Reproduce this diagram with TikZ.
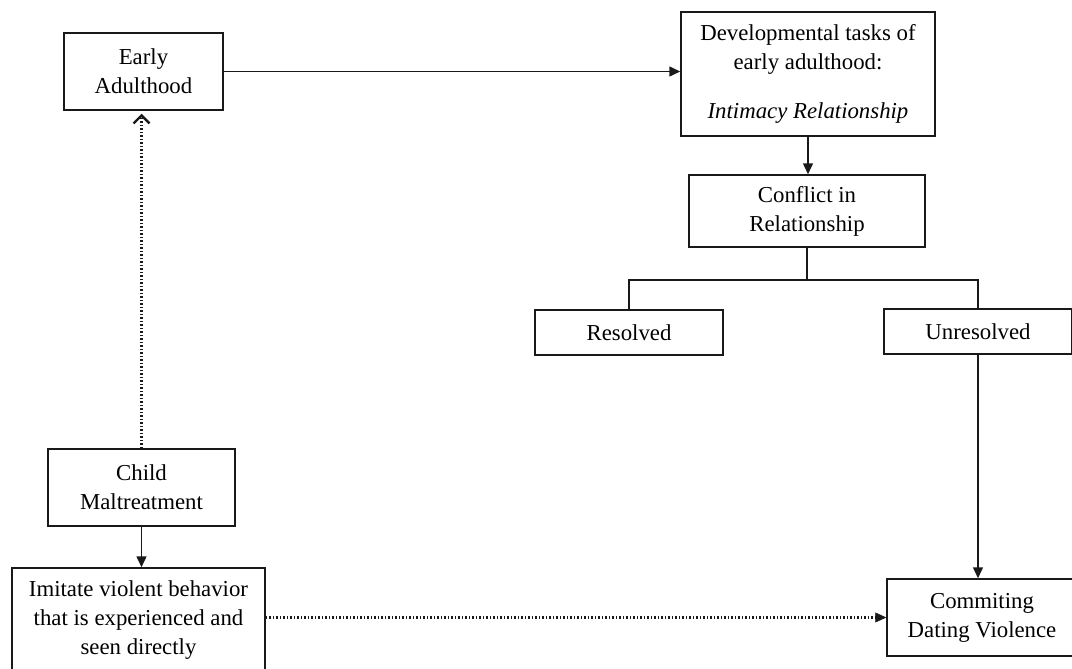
\documentclass[tikz,border=0pt]{standalone}
\usepackage{fontspec}
\setmainfont{Liberation Serif}
\usetikzlibrary{arrows.meta}
\begin{document}
\begin{tikzpicture}[x=1pt,y=-1pt,
  box/.style={draw=black!90,line width=1.5pt,align=center,inner sep=0pt,
    font=\fontsize{22.8}{29}\selectfont},
  conn/.style={line width=1.5pt,black!90},
  tip/.style={-{Triangle[length=11pt,width=10pt]}},
  dotline/.style={line width=2.2pt,dash pattern=on 1.5pt off 2pt}]
\useasboundingbox (0,0) rectangle (1072,669);
\node[box,minimum width=159pt,minimum height=77pt] (ea) at (143.5,71.5) {Early\\Adulthood};
\node[box,minimum width=254pt,minimum height=124pt] (dt) at (808,74) {Developmental tasks of\\early adulthood:\\[20pt]\textit{Intimacy Relationship}};
\node[box,minimum width=236pt,minimum height=72pt] (cr) at (807,211) {Conflict in\\Relationship};
\node[box,minimum width=188pt,minimum height=45pt] (res) at (629,332.5) {Resolved};
\node[box,minimum width=188pt,minimum height=45pt] (unr) at (978,331.5) {Unresolved};
\node[box,minimum width=187pt,minimum height=77pt] (cm) at (141.5,487.5) {Child\\Maltreatment};
\node[box,minimum width=253pt,minimum height=104pt] (im) at (138.5,620) {Imitate violent behavior\\that is experienced and\\seen directly};
\node[box,minimum width=190pt,minimum height=77pt] (cdv) at (982,617.5) {Commiting\\Dating Violence};
\draw[conn,tip] (ea.east) -- (ea.east -| dt.west);
\draw[conn,tip] (dt.south) -- (dt.south |- cr.north);
\draw[conn] (cr.south) -- ++(0,32) coordinate (br);
\draw[conn] (br) -| (res.north);
\draw[conn] (br) -| (unr.north);
\draw[conn,tip] (unr.south) -- (unr.south |- cdv.north);
\draw[conn,tip] (cm.south) -- (cm.south |- im.north);
\draw[conn,dotline,-{Straight Barb[length=8pt,width=16pt,line width=2.4pt]},shorten >=3pt] (cm.north) -- (cm.north |- ea.south);
\draw[conn,dotline,-{Triangle[length=11pt,width=10pt,line width=0.5pt]}] (cdv.west -| im.east) -- (cdv.west);
\end{tikzpicture}
\end{document}
